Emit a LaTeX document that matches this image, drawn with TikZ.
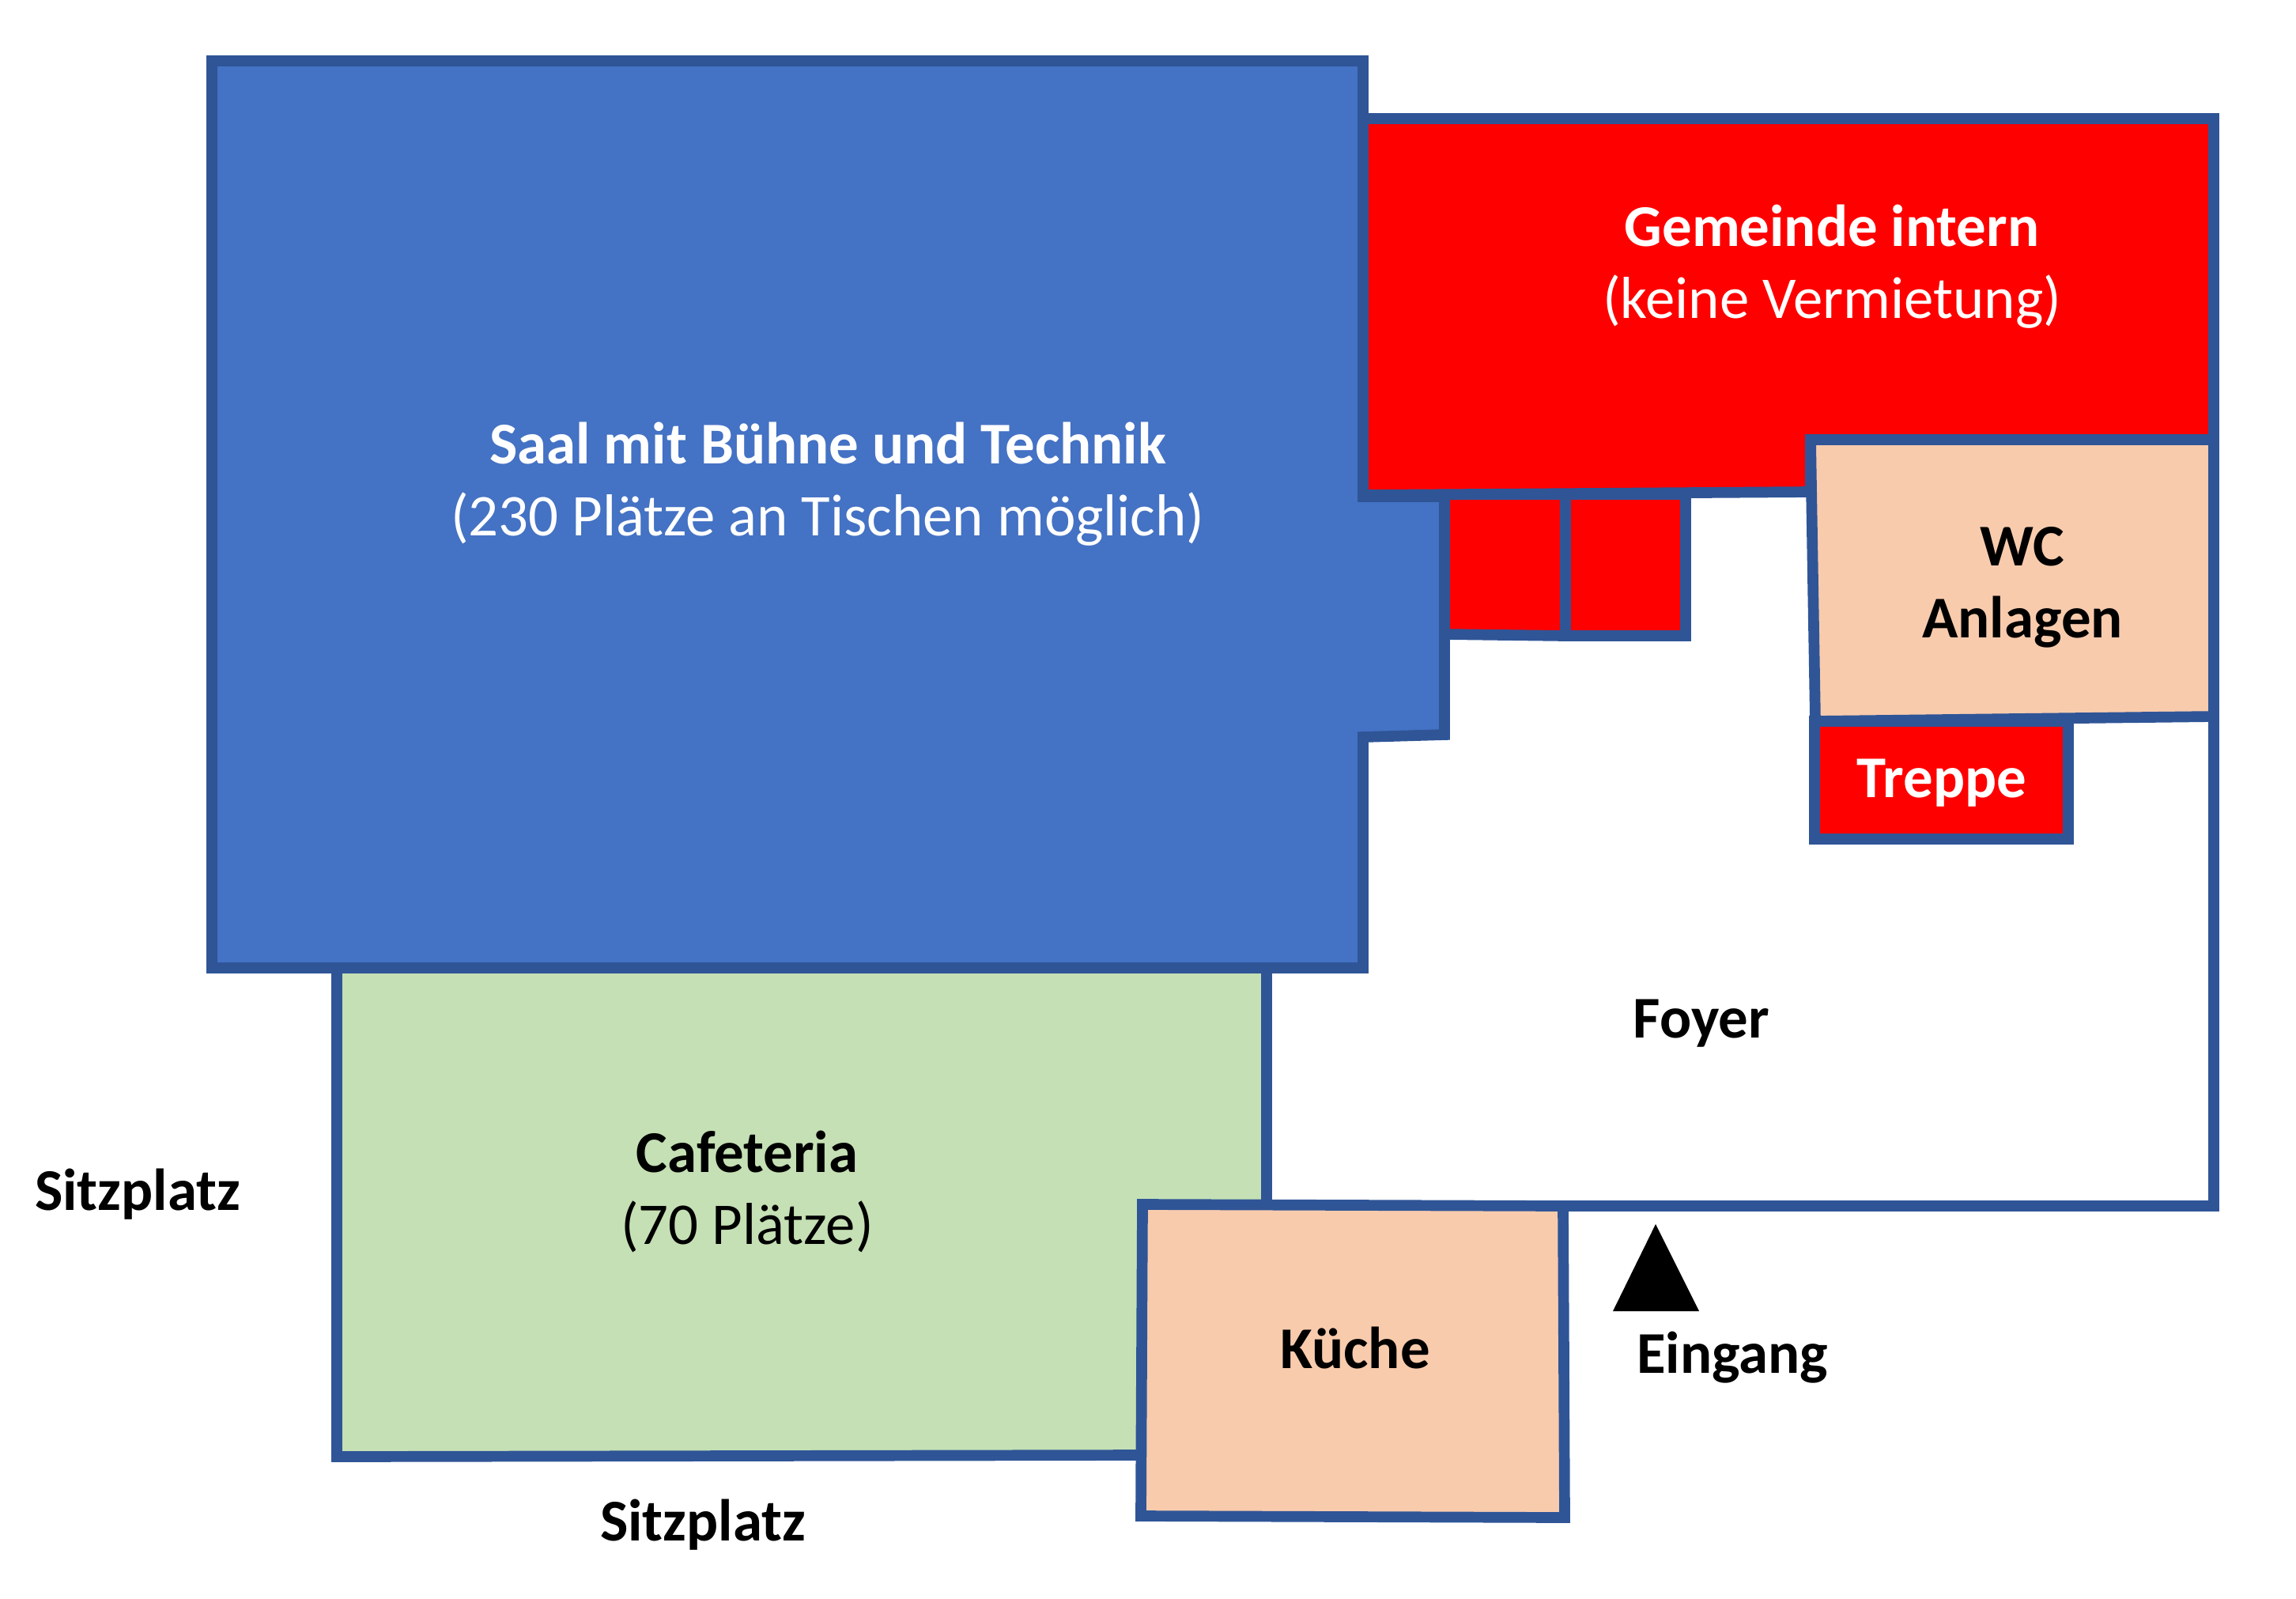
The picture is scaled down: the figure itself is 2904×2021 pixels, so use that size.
\documentclass[tikz,border=0pt]{standalone}
\usepackage{fontspec}
\setmainfont{Carlito}
\definecolor{wall}{HTML}{2F5597}
\definecolor{saalblue}{HTML}{4472C4}
\definecolor{cafegreen}{HTML}{C5E0B4}
\definecolor{peach}{HTML}{F8CBAD}
\tikzset{
  room/.style={draw=wall, line width=3.9pt, line join=miter},
  floor plan/.style={
    x=0.1mm,
    y=-0.1mm,
    font={\fontsize{21.3}{25.9}\selectfont},
  },
  label/.style={inner sep=0pt, align=center},
  boldlabel/.style={label, font={\fontsize{21.3}{25.9}\selectfont\bfseries}},
}
\begin{document}
\begin{tikzpicture}[floor plan]
    \useasboundingbox (0,0) rectangle (2904,2021);

    % Foyer first, the rooms lie on top of it
    \draw [room] (1602,1224) -- (1602,1525) -- (2800,1525) -- (2800,906);

    \draw [room,fill=cafegreen] (426,1224) -- (1602,1224) -- (1602,1525)
    -- (1445,1525) -- (1445,1840) -- (426,1842) -- cycle;

    \draw [room,fill=red] (1827,625) -- (1980,625) -- (1980,804)
    -- (1827,802) -- cycle;
    \draw [room,fill=red] (1980,625) -- (2132,625) -- (2132,804)
    -- (1980,804) -- cycle;

    \draw [room,fill=saalblue] (268,77) -- (1724,77) -- (1724,628)
    -- (1827,628) -- (1827,929) -- (1724,932) -- (1724,1224)
    -- (268,1224) -- cycle;

    \draw [room,fill=red] (1724,150) -- (2800,150) -- (2800,556)
    -- (2290,556) -- (2290,622) -- (1724,626) -- cycle;

    \draw [room,fill=peach] (2290,556) -- (2800,556) -- (2800,906)
    -- (2296,912) -- cycle;

    \draw [room,fill=red] (2295,912) -- (2616,912) -- (2616,1061)
    -- (2295,1061) -- cycle;

    \draw [room,fill=peach] (1445,1523) -- (1977,1525) -- (1979,1919)
    -- (1443,1917) -- cycle;

    \fill (2094,1548) -- (2149,1658) -- (2040,1658) -- cycle;

    \node [label,text=white] (saal) at (1047,612)
    {\textbf{Saal mit Bühne und Technik}\\(230 Plätze an Tischen möglich)};
    \node [label,text=white] (gemeinde) at (2317,337)
    {\textbf{Gemeinde intern}\\(keine Vermietung)};
    \node [boldlabel] (wc) at (2558,743) {WC\\Anlagen};
    \node [boldlabel,text=white] (treppe) at (2456,990) {Treppe};
    \node [boldlabel] (foyer) at (2152,1294) {Foyer};
    \node [label] (cafeteria) at (945,1507) {\textbf{Cafeteria}\\(70 Plätze)};
    \node [boldlabel] (kueche) at (1714,1704) {Küche};
    \node [boldlabel] (eingang) at (2191,1717) {Eingang};
    \node [boldlabel] (sitzplatz west) at (174,1510) {Sitzplatz};
    \node [boldlabel] (sitzplatz south) at (889,1928) {Sitzplatz};

\end{tikzpicture}
\end{document}
